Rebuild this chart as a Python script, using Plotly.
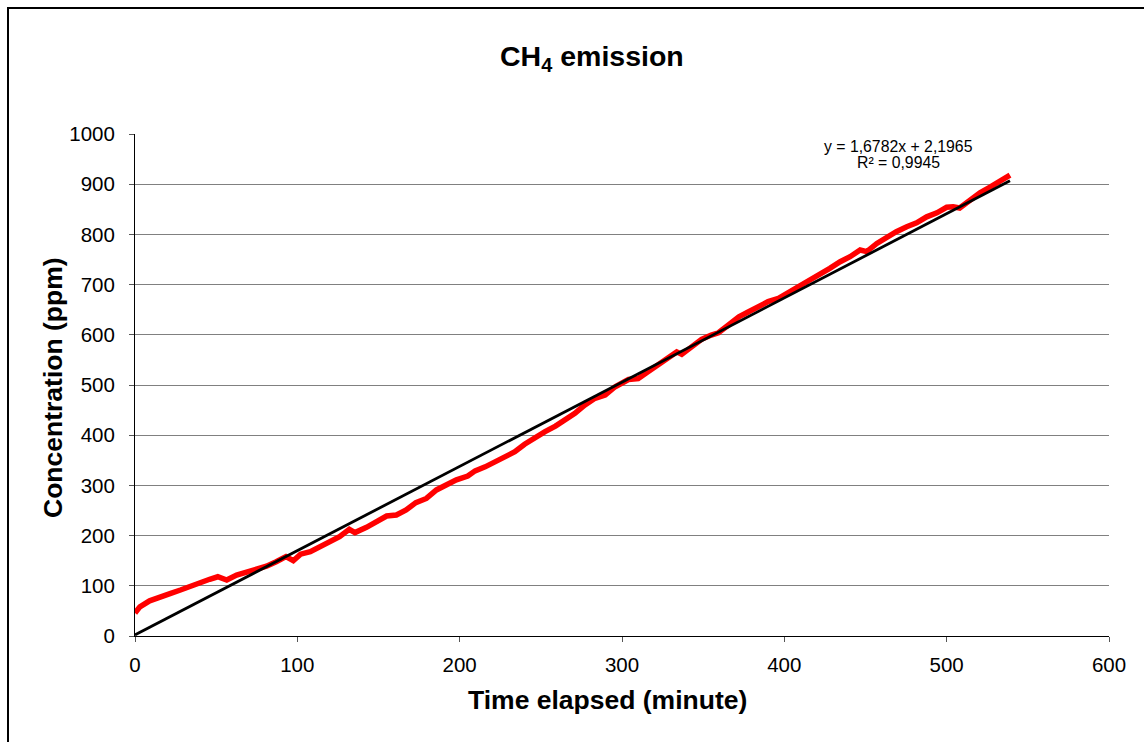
import plotly.graph_objects as go

# Measured CH4 concentration (ppm) vs time elapsed (minute)
time_min = [0, 3, 9, 15, 22, 28, 34, 40, 46, 51, 56.5, 62.6, 69, 75, 81, 87, 93, 97.5,
            102, 108, 114, 120, 126, 132, 135.5, 142.6, 148.7, 155, 161, 167, 173, 179.5,
            185.7, 192, 198, 205, 209.5, 215.7, 222, 228, 234, 240, 246.5, 252.6, 259, 265,
            271, 277, 283.4, 289.6, 295.8, 304, 310, 316, 322.4, 328.6, 333.7, 336.8, 343,
            349, 355, 359.4, 365.6, 372, 378, 384, 390, 396.4, 403.5, 409.7, 416, 422, 428,
            434.4, 440.5, 446.7, 450.8, 457, 463, 469, 475.4, 481.5, 487.7, 494, 500, 504,
            508, 514.4, 520.5, 526.7, 533, 539]
conc_ppm = [46, 58, 70, 78, 85, 91.6, 99.6, 107, 113, 118, 111.5, 121.5, 128, 135, 139, 148,
            158, 150, 163, 168, 179, 188, 198, 212.5, 206, 216.5, 227.7, 239, 241, 251, 265.6,
            274, 291, 301, 311, 318.7, 329, 337, 347, 358.6, 367, 382, 396, 407, 418, 430,
            443.6, 460, 473.5, 480, 496.6, 511, 513, 526.6, 540, 553, 566, 561, 575, 591,
            599.6, 604, 619.5, 636, 646, 657, 666, 672.7, 686, 697, 710.6, 719, 732.5, 745.6,
            755.6, 769, 765.7, 782, 794, 805.4, 815.4, 823, 835, 843, 854, 855, 852.6, 868,
            883, 894, 905, 918]

# Linear trendline
slope = 1.6782
intercept = 2.1965
r_squared = 0.9945
trend_x = [0, 539]
trend_y = [slope * x + intercept for x in trend_x]

x_ticks = [0, 100, 200, 300, 400, 500, 600]
y_ticks = [0, 100, 200, 300, 400, 500, 600, 700, 800, 900, 1000]

FONT = "Liberation Sans, Arial, sans-serif"

fig = go.Figure()
fig.add_trace(go.Scatter(x=time_min, y=conc_ppm, mode="lines",
                         line=dict(color="#ff0000", width=5.5), showlegend=False))
fig.add_trace(go.Scatter(x=trend_x, y=trend_y, mode="lines",
                         line=dict(color="#000000", width=2.8), showlegend=False))

W, H = 1144, 742
L, R, T, B = 135, 35, 134, 106
pw, ph = W - L - R, H - T - B

def px(p):
    return (p - L) / pw

def py(q):
    return (H - B - q) / ph

def fmt(v):
    return str(v).replace(".", ",")

fig.update_layout(
    width=W, height=H,
    margin=dict(l=L, r=R, t=T, b=B),
    paper_bgcolor="white", plot_bgcolor="white",
    font=dict(family=FONT, color="black"),
    xaxis=dict(range=[0, 600], tickvals=x_ticks, showgrid=False, zeroline=False,
               showline=True, linecolor="black", linewidth=1,
               ticks="outside", ticklen=5, tickcolor="#555555",
               tickfont=dict(size=20.5, family=FONT, color="black"),
               ticklabelstandoff=5),
    yaxis=dict(range=[0, 1000], tickvals=y_ticks, showgrid=True, gridcolor="#808080",
               gridwidth=1, zeroline=False,
               showline=True, linecolor="black", linewidth=1,
               ticks="outside", ticklen=5, tickcolor="#555555",
               tickfont=dict(size=20.5, family=FONT, color="black"),
               ticklabelstandoff=10),
    shapes=[dict(type="rect", xref="paper", yref="paper",
                 x0=px(8), y0=py(760), x1=px(1180), y1=py(8),
                 line=dict(color="black", width=2), fillcolor="rgba(0,0,0,0)", layer="above")],
    annotations=[
        dict(text="<b>CH<sub>4</sub> emission</b>", xref="paper", yref="paper",
             x=px(592), y=py(58), showarrow=False, font=dict(size=28.5, family=FONT),
             xanchor="center", yanchor="middle"),
        dict(text="<b>Concentration (ppm)</b>", xref="paper", yref="paper",
             x=px(53), y=py(388), showarrow=False, textangle=-90,
             font=dict(size=26.5, family=FONT), xanchor="center", yanchor="middle"),
        dict(text="<b>Time elapsed (minute)</b>", xref="paper", yref="paper",
             x=px(607), y=py(700), showarrow=False,
             font=dict(size=26.5, family=FONT), xanchor="center", yanchor="middle"),
        dict(text=f"y = {fmt(slope)}x + {fmt(intercept)}",
             xref="paper", yref="paper", x=px(898), y=py(146), showarrow=False,
             font=dict(size=15.8, family=FONT), xanchor="center", yanchor="middle"),
        dict(text=f"R² = {fmt(r_squared)}",
             xref="paper", yref="paper", x=px(898), y=py(163), showarrow=False,
             font=dict(size=15.8, family=FONT), xanchor="center", yanchor="middle"),
    ],
)

fig.write_html("out.html")
